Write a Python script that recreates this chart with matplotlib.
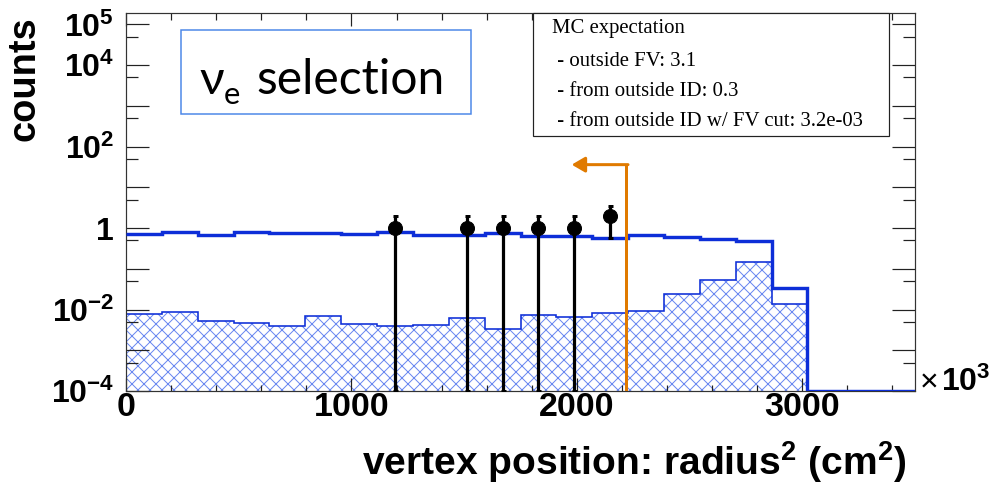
import numpy as np
import matplotlib
matplotlib.use("Agg")
import matplotlib.pyplot as plt
from matplotlib.patches import Rectangle
from matplotlib.ticker import FixedLocator, FixedFormatter

# ---------------- data ----------------
x_range = (0, 3500)          # vertex radius^2, units of 10^3 cm^2
n_bins = 22
mc_total = [0.71, 0.81, 0.69, 0.81, 0.74, 0.74, 0.71, 0.78, 0.69, 0.69, 0.76,
            0.63, 0.63, 0.56, 0.69, 0.59, 0.54, 0.49, 0.034, 0.0, 0.0, 0.0]
mc_outside_id = [0.0077, 0.0088, 0.0053, 0.0048, 0.0039, 0.0071, 0.0043, 0.0039,
                 0.0041, 0.0063, 0.0034, 0.0073, 0.0064, 0.0080, 0.0091, 0.0245,
                 0.054, 0.145, 0.0138, 0.0, 0.0, 0.0]
data_counts = [0, 0, 0, 0, 0, 0, 0, 1, 0, 1, 1, 1, 1, 2, 0, 0, 0, 0, 0, 0, 0, 0]
fv_cut = 2220
arrow_tip_x = 1977
arrow_level = 36

y_lim = (1e-4, 1.9e5)
y_major_ticks = [1e-4, 1e-3, 1e-2, 1e-1, 1, 1e1, 1e2, 1e3, 1e4, 1e5]
y_major_labels = [r"$10^{-4}$", "", r"$10^{-2}$", "", "1", "", r"$10^{2}$", "",
                  r"$10^{4}$", r"$10^{5}$"]
y_minor_ticks = [5e-4, 5e-3, 5e-2, 5e-1, 5, 5e1, 5e2, 5e3, 5e4]
x_major_ticks = [0, 1000, 2000, 3000]
x_major_labels = ["0", "1000", "2000", "3000"]
x_minor_ticks = list(range(0, 3501, 200))

mc_lines = ["MC expectation",
            " - outside FV: 3.1",
            " - from outside ID: 0.3",
            " - from outside ID w/ FV cut: 3.2e-03"]

# ---------------- style ----------------
W, H, DPI = 996, 485, 72
plt.rcParams["mathtext.fontset"] = "custom"
plt.rcParams["mathtext.rm"] = "Liberation Sans:bold"
plt.rcParams["mathtext.bf"] = "Liberation Sans:bold"
plt.rcParams["mathtext.it"] = "Liberation Sans:bold"
plt.rcParams["font.family"] = ["Liberation Sans", "DejaVu Sans"]
plt.rcParams["font.weight"] = "bold"
plt.rcParams["hatch.linewidth"] = 1.0

blue = "#0D2ED8"
hatch_blue = "#6A88F0"
orange = "#E07A00"

fig = plt.figure(figsize=(W / DPI, H / DPI), dpi=DPI)
L, R, T, B = 126, 915, 13, 391
ax = fig.add_axes([L / W, 1 - B / H, (R - L) / W, (B - T) / H])
ax.set_yscale("log")
ax.set_xlim(*x_range)
ax.set_ylim(*y_lim)

edges = np.linspace(x_range[0], x_range[1], n_bins + 1)
centers = 0.5 * (edges[:-1] + edges[1:])
floor = y_lim[0]

tot = np.asarray(mc_total, float)
oid = np.asarray(mc_outside_id, float)
tot_p = np.where(tot > 0, tot, floor)
oid_p = np.where(oid > 0, oid, floor)

# hatched component
ax.stairs(oid_p, edges, baseline=floor, fill=True, facecolor="none",
          edgecolor=hatch_blue, linewidth=0, hatch="xx", zorder=1)
ax.stairs(oid_p, edges, baseline=None, color=blue, linewidth=1.6, zorder=2)
# total MC
ax.stairs(tot_p, edges, baseline=None, color=blue, linewidth=3.4, zorder=3)

# FV cut arrow
ax.plot([fv_cut, fv_cut], [floor, arrow_level], color=orange, lw=3, zorder=4,
        solid_capstyle="butt")
ax.annotate("", xy=(arrow_tip_x, arrow_level), xytext=(fv_cut + 7, arrow_level),
            arrowprops=dict(arrowstyle="-|>,head_length=0.55,head_width=0.32",
                            color=orange, lw=3, mutation_scale=20,
                            shrinkA=0, shrinkB=0), zorder=4)

# data
cnt = np.asarray(data_counts, float)
m = cnt > 0
yd = cnt[m]
err = np.sqrt(yd)
lo = np.maximum(yd - err, floor)
ax.errorbar(centers[m], yd, yerr=[yd - lo, err], fmt="o", color="black",
            markersize=14, elinewidth=3.2, capsize=2.5, capthick=3, zorder=5,
            clip_on=True)

# axes styling
for s in ax.spines.values():
    s.set_linewidth(1.2)
    s.set_color("#333333")
ax.xaxis.set_major_locator(FixedLocator(x_major_ticks))
ax.xaxis.set_major_formatter(FixedFormatter(x_major_labels))
ax.xaxis.set_minor_locator(FixedLocator(x_minor_ticks))
ax.yaxis.set_major_locator(FixedLocator(y_major_ticks))
ax.yaxis.set_major_formatter(FixedFormatter(y_major_labels))
ax.yaxis.set_minor_locator(FixedLocator(y_minor_ticks))
ax.yaxis.set_minor_formatter(FixedFormatter([""] * len(y_minor_ticks)))
ax.tick_params(which="both", direction="in", top=True, right=True,
               width=1.2, color="#222222")
ax.tick_params(axis="x", which="major", length=13, labelsize=34, pad=1)
ax.tick_params(axis="x", which="minor", length=6.5)
ax.tick_params(axis="y", which="major", length=23, labelsize=32, pad=12)
ax.tick_params(axis="y", which="minor", length=12)
for lab in ax.get_xticklabels() + ax.get_yticklabels():
    lab.set_fontweight("bold")

# axis titles
fig.text(25 / W, 1 - 79 / H, "counts", rotation=90, ha="center", va="center",
         fontsize=38, fontweight="bold")
fig.text(907 / W, 1 - 475 / H, r"vertex position: radius$^{2}$ (cm$^{2}$)",
         ha="right", va="baseline", fontsize=39, fontweight="bold")
fig.text(920 / W, 1 - 391 / H, "\u00d7", ha="left", va="baseline",
         fontsize=32, fontweight="normal")
fig.text(941 / W, 1 - 391 / H, r"10$^{3}$", ha="left", va="baseline",
         fontsize=32, fontweight="bold")

# nu_e selection box
fig.add_artist(Rectangle((181 / W, 1 - 114 / H), (471 - 181) / W, (114 - 30) / H,
                         transform=fig.transFigure, facecolor="white",
                         edgecolor="#4A86E8", linewidth=1.5))
sel_font = ["Lato", "Open Sans", "DejaVu Sans"]
fig.text(199 / W, 1 - 94 / H, "\u03bd", ha="left", va="baseline",
         fontsize=48, fontweight="normal", family=sel_font)
fig.text(224 / W, 1 - 104 / H, "e", ha="left", va="baseline",
         fontsize=31, fontweight="normal", family=sel_font)
fig.text(256 / W, 1 - 94 / H, "selection", ha="left", va="baseline",
         fontsize=48, fontweight="normal", family=sel_font)

# MC expectation box
fig.add_artist(Rectangle((533 / W, 1 - 136 / H), (889 - 533) / W, (136 - T) / H,
                         transform=fig.transFigure, facecolor="white",
                         edgecolor="#222222", linewidth=1.2))
ys = [29, 61, 91, 121]
for txt, yy in zip(mc_lines, ys):
    fig.text(552 / W, 1 - yy / H, txt, ha="left", va="center", fontsize=20.7,
             fontweight="normal", family=["Liberation Serif", "DejaVu Serif"])

fig.savefig("out.png", dpi=DPI)
